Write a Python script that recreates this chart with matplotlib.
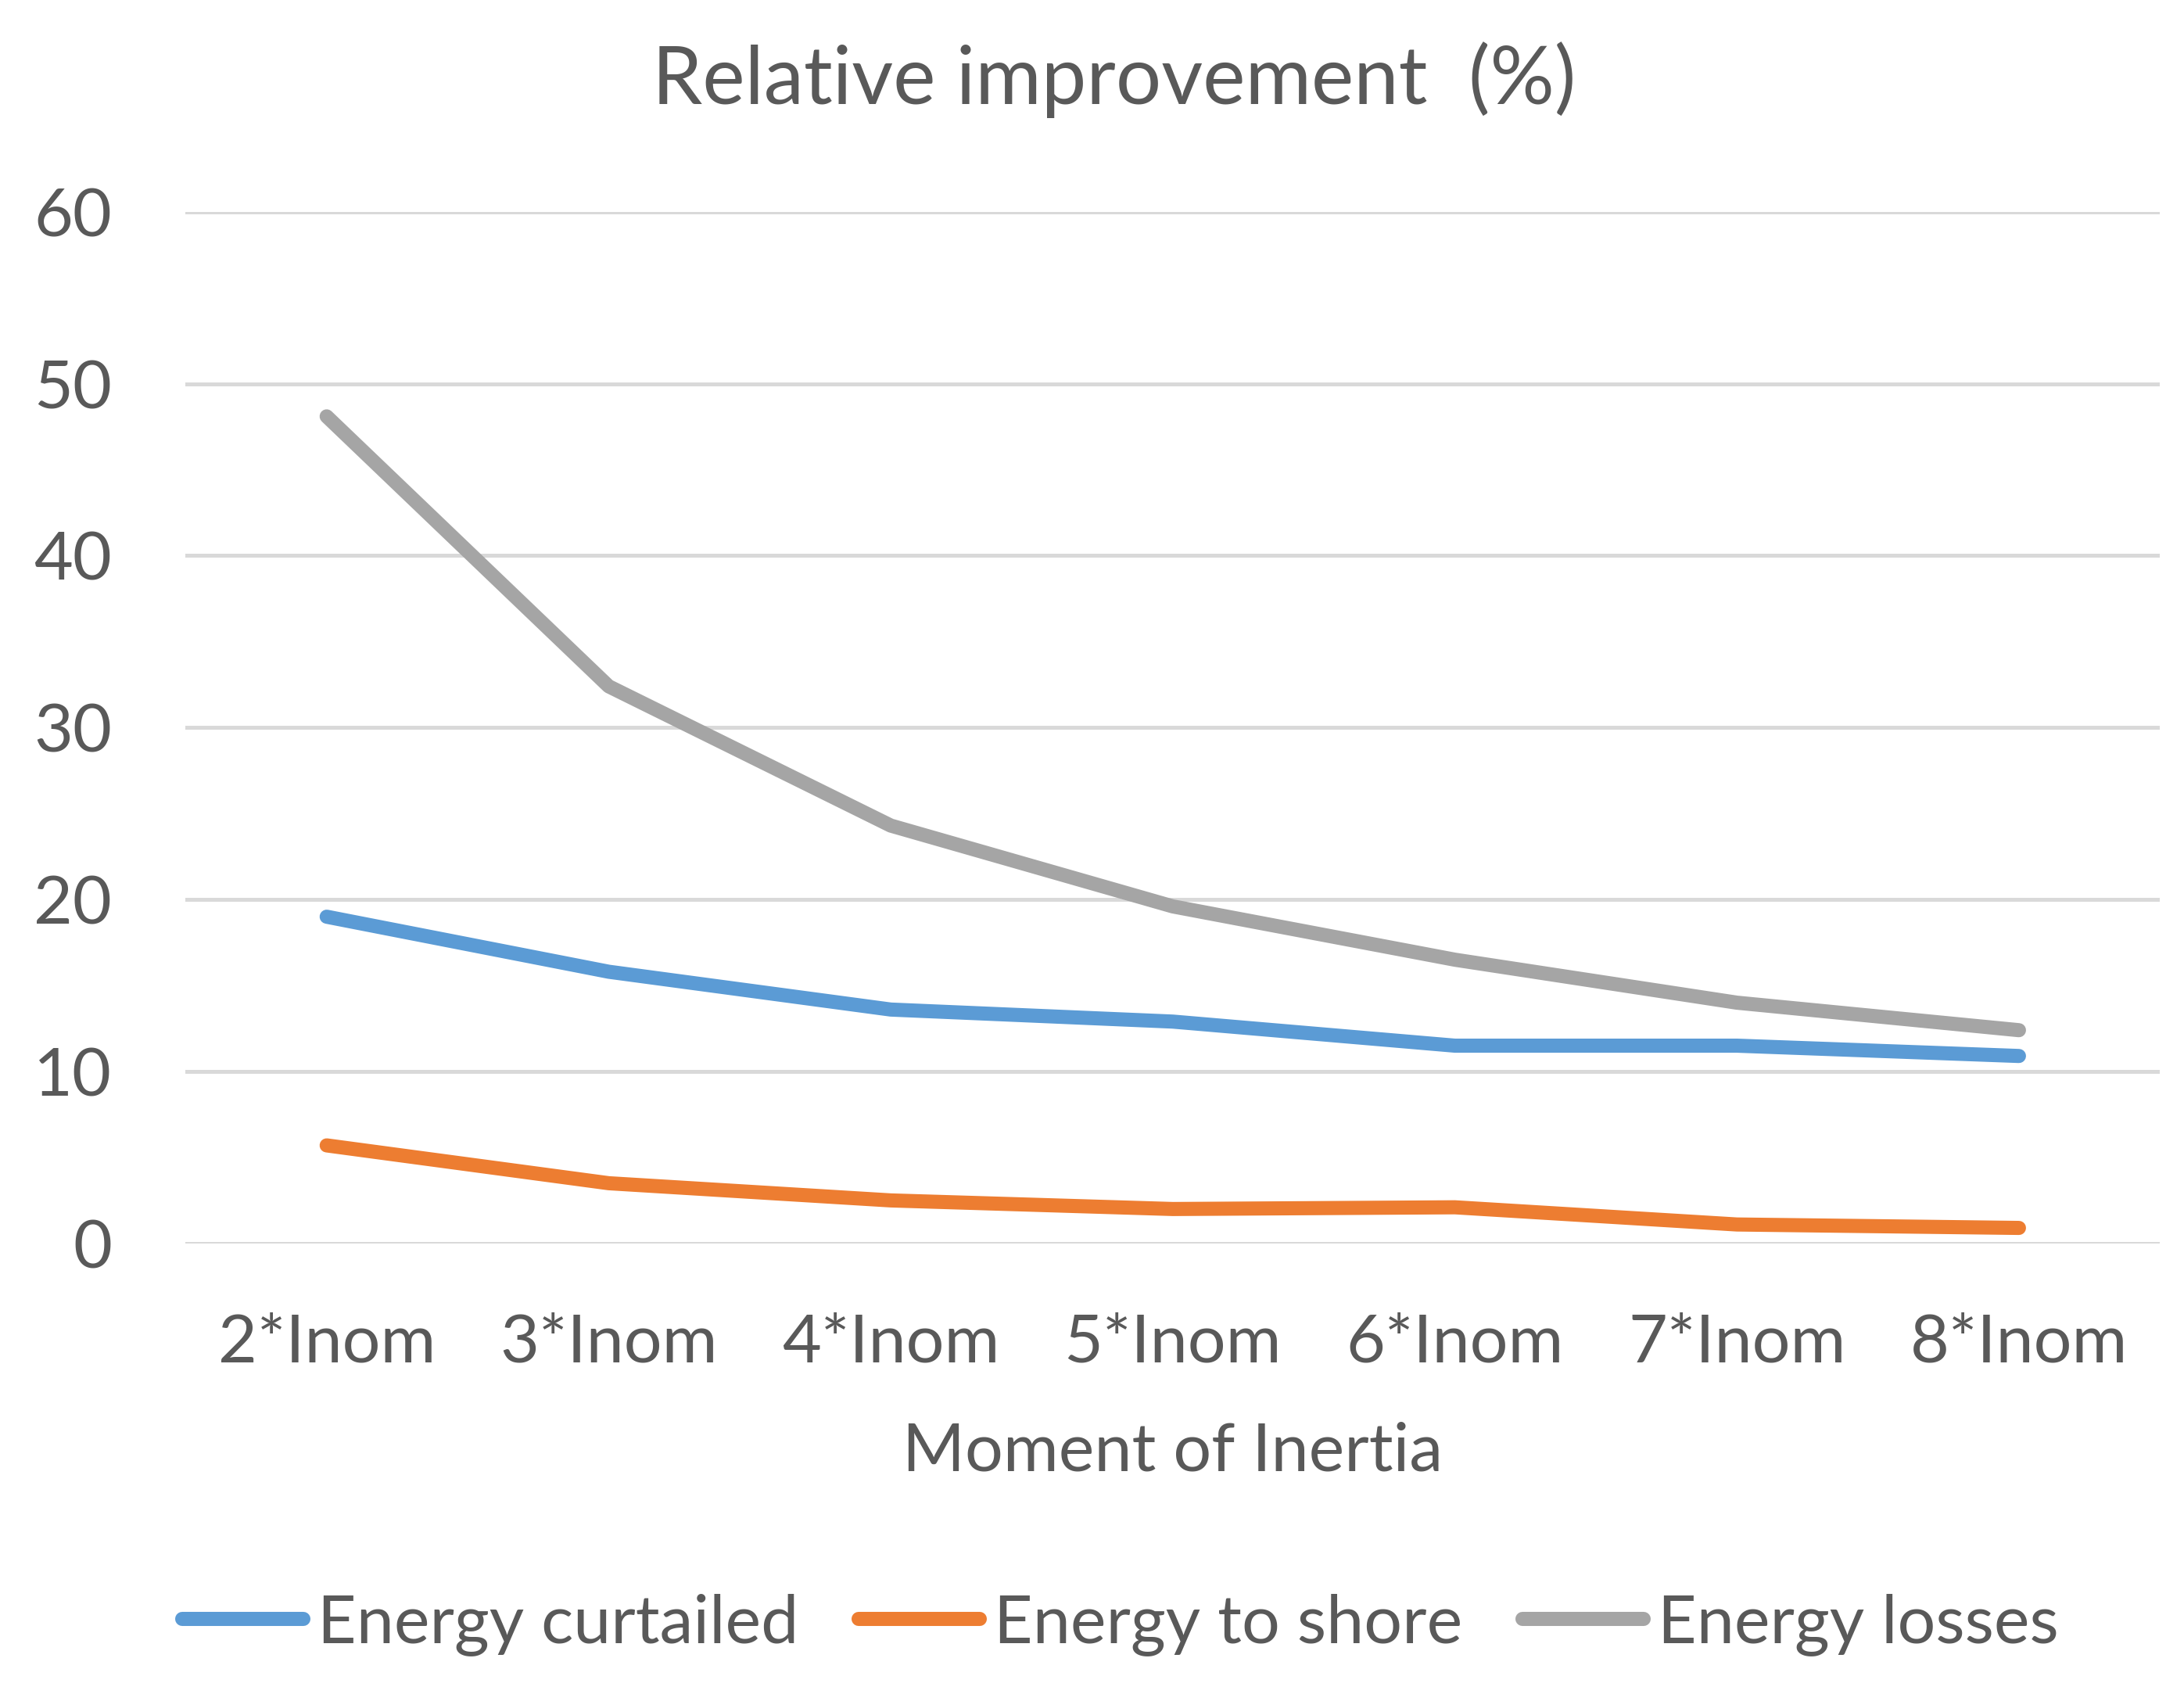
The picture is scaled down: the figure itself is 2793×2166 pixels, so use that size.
import matplotlib.pyplot as plt

plt.rcParams["font.family"] = ["Lato", "DejaVu Sans"]

categories = ["2*Inom", "3*Inom", "4*Inom", "5*Inom", "6*Inom", "7*Inom", "8*Inom"]
energy_curtailed = [19.0, 15.8, 13.6, 12.9, 11.5, 11.5, 10.9]
energy_to_shore = [5.7, 3.5, 2.5, 2.0, 2.1, 1.1, 0.9]
energy_losses = [48.1, 32.4, 24.3, 19.6, 16.5, 14.0, 12.4]

txt = "#595959"

fig = plt.figure(figsize=(13.965, 10.83), dpi=200)
ax = fig.add_axes([0.085, 0.266, 0.904, 0.609])

x = range(len(categories))
ax.plot(x, energy_curtailed, color="#5B9BD5", lw=6.5, label="Energy curtailed", solid_capstyle="round")
ax.plot(x, energy_to_shore, color="#ED7D31", lw=6.5, label="Energy to shore", solid_capstyle="round")
ax.plot(x, energy_losses, color="#A5A5A5", lw=6.5, label="Energy losses", solid_capstyle="round")

ax.set_xlim(-0.5, len(categories) - 0.5)
ax.set_ylim(0, 60)
ax.set_yticks(range(0, 61, 10))
ax.set_xticks(list(x))
ax.set_xticklabels(categories)
ax.yaxis.grid(True, color="#d9d9d9", lw=1.8)
ax.set_axisbelow(True)
for s in ax.spines.values():
    s.set_visible(False)
ax.tick_params(length=0, labelsize=31, colors=txt)
ax.tick_params(axis="x", pad=32)
ax.tick_params(axis="y", pad=34)

ax.set_xlabel("Moment of Inertia", fontsize=31, color=txt, labelpad=22)
fig.text(0.51, 0.953, "Relative improvement  (%)", ha="center", va="center", fontsize=37, color=txt)

leg = fig.legend(loc="center", bbox_to_anchor=(0.513, 0.041), ncol=3, frameon=False,
                 fontsize=31, handlelength=1.8, handletextpad=0.2, columnspacing=0.9)
for t in leg.get_texts():
    t.set_color(txt)

fig.savefig("out.png", dpi=200, facecolor="white")
